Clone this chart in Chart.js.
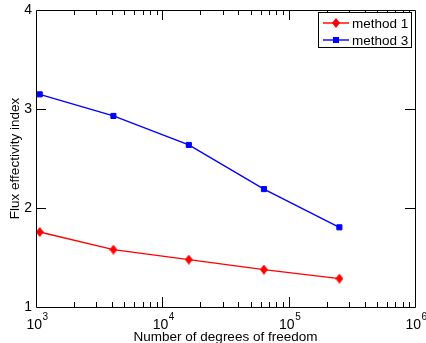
<!DOCTYPE html>
<html>
<head>
<meta charset="utf-8">
<script src="https://cdn.jsdelivr.net/npm/chart.js@4"></script>
<style>
  html,body{margin:0;padding:0;background:#fff;}
  #wrap{width:426px;height:343px;position:relative;}
</style>
</head>
<body>
<div id="wrap"><canvas id="c" width="426" height="343"></canvas></div>
<script>
// ---- data ----
const dof = [1070, 4100, 16200, 63700, 252000];
const method1 = [1.758, 1.580, 1.479, 1.378, 1.287];
const method3 = [3.148, 2.930, 2.637, 2.191, 1.805];
const seriesNames = ['method 1', 'method 3'];
const xTickValues = [1e3, 1e4, 1e5, 1e6];
const xTickBase = ['10', '10', '10', '10'];
const xTickExp = ['3', '4', '5', '6'];
const yTickValues = [1, 2, 3, 4];
const xTitle = 'Number of degrees of freedom';
const yTitle = 'Flux effectivity index';

const FONT = "'Liberation Sans', Arial, Helvetica, sans-serif";

// diamond marker image
function makeDiamond(w, h, color) {
  const cv = document.createElement('canvas');
  cv.width = w; cv.height = h;
  const g = cv.getContext('2d');
  g.fillStyle = color;
  g.beginPath();
  g.moveTo(w/2, 0); g.lineTo(w, h/2); g.lineTo(w/2, h); g.lineTo(0, h/2);
  g.closePath(); g.fill();
  return cv;
}
const diamond = makeDiamond(8, 10, '#ff0000');

function pts(ys) { return dof.map((x, i) => ({x: x, y: ys[i]})); }

const frameTicks = {
  id: 'frameTicks',
  afterDatasetsDraw(chart) {
    const ctx = chart.ctx, a = chart.chartArea;
    const xs = chart.scales.x, ys = chart.scales.y;
    ctx.save();
    ctx.strokeStyle = '#000';
    ctx.lineWidth = 1;
    ctx.beginPath();
    ctx.rect(Math.round(a.left) + 0.5, Math.round(a.top) + 0.5,
             Math.round(a.right - a.left), Math.round(a.bottom - a.top));
    ctx.stroke();
    const major = 10, minor = 5;
    ctx.beginPath();
    for (let d = 3; d <= 6; d++) {
      for (let m = 1; m <= 9; m++) {
        const v = m * Math.pow(10, d);
        if (v < xs.min || v > xs.max) continue;
        if ((m === 1 && (d === 3 || d === 6))) continue;
        const px = Math.round(xs.getPixelForValue(v)) + 0.5;
        const L = m === 1 ? major : minor;
        ctx.moveTo(px, a.bottom); ctx.lineTo(px, a.bottom - L);
        ctx.moveTo(px, a.top); ctx.lineTo(px, a.top + L);
      }
    }
    yTickValues.forEach(v => {
      if (v === ys.min || v === ys.max) return;
      const py = Math.round(ys.getPixelForValue(v)) + 0.5;
      ctx.moveTo(a.left, py); ctx.lineTo(a.left + major, py);
      ctx.moveTo(a.right, py); ctx.lineTo(a.right - major, py);
    });
    ctx.stroke();

    // x tick labels: base with superscript exponent
    ctx.fillStyle = '#000';
    ctx.textBaseline = 'alphabetic';
    ctx.textAlign = 'left';
    xTickValues.forEach((v, i) => {
      const px = xs.getPixelForValue(v);
      ctx.font = '14px ' + FONT;
      const wb = ctx.measureText(xTickBase[i]).width;
      ctx.fillText(xTickBase[i], px - 9.6, 328.5);
      ctx.font = '10px ' + FONT;
      ctx.fillText(xTickExp[i], px - 9.6 + wb + 0.5, 320);
    });

    // legend box
    const bx = 318.5, by = 12.5, bw = 93, bh = 35;
    ctx.fillStyle = '#fff';
    ctx.fillRect(bx, by, bw, bh);
    ctx.strokeRect(bx, by, bw, bh);
    ctx.font = '13.5px ' + FONT;
    ctx.textBaseline = 'middle';
    ctx.textAlign = 'left';
    const rows = [23, 40];
    chart.data.datasets.forEach((ds, i) => {
      const y = rows[i];
      ctx.strokeStyle = ds.borderColor;
      ctx.lineWidth = ds.borderWidth;
      ctx.beginPath(); ctx.moveTo(323, y); ctx.lineTo(349, y); ctx.stroke();
      if (i === 0) {
        ctx.drawImage(diamond, 336 - 4, y - 5);
      } else {
        ctx.fillStyle = ds.pointBackgroundColor;
        ctx.fillRect(336 - 3, y - 3, 6, 6);
      }
      ctx.fillStyle = '#000';
      ctx.fillText(ds.label, 352, y + 1);
    });
    ctx.restore();
  }
};

new Chart(document.getElementById('c'), {
  type: 'line',
  data: {
    datasets: [
      {
        label: seriesNames[0], data: pts(method1),
        borderColor: '#ff0000', backgroundColor: '#ff0000', borderWidth: 1.4,
        pointStyle: diamond, pointRadius: 5,
        pointBackgroundColor: '#ff0000', pointBorderColor: '#ff0000',
        clip: false, tension: 0
      },
      {
        label: seriesNames[1], data: pts(method3),
        borderColor: '#0000ff', backgroundColor: '#0000ff', borderWidth: 1.4,
        pointStyle: 'rect', pointRadius: 3.6, pointBorderWidth: 1,
        pointBackgroundColor: '#0000ff', pointBorderColor: '#0000ff',
        clip: false, tension: 0
      }
    ]
  },
  options: {
    responsive: false,
    animation: false,
    devicePixelRatio: 1,
    layout: { padding: { top: 10, right: 11, left: 0, bottom: 0 } },
    plugins: { legend: { display: false }, tooltip: { enabled: false } },
    scales: {
      x: {
        type: 'logarithmic', min: 1e3, max: 1e6,
        afterBuildTicks: s => { s.ticks = xTickValues.map(v => ({ value: v })); },
        afterFit: s => { s.height = 36; s.paddingLeft = 0; s.paddingRight = 0; },
        grid: { display: false, drawTicks: false },
        border: { display: false },
        ticks: { display: false },
        title: { display: true, text: xTitle, color: '#000', padding: { top: 0, bottom: -2 },
                 font: { family: FONT, size: 13.5 } }
      },
      y: {
        type: 'linear', min: 1, max: 4,
        afterBuildTicks: s => { s.ticks = yTickValues.map(v => ({ value: v })); },
        afterFit: s => { s.width = 36; s.paddingTop = 0; s.paddingBottom = 0; },
        grid: { display: false, drawTicks: false },
        border: { display: false },
        ticks: { padding: 4, color: '#000', font: { family: FONT, size: 14 } },
        title: { display: true, text: yTitle, color: '#000', padding: { top: 7, bottom: 0 },
                 font: { family: FONT, size: 13.5 } }
      }
    }
  },
  plugins: [frameTicks]
});
</script>
</body>
</html>
